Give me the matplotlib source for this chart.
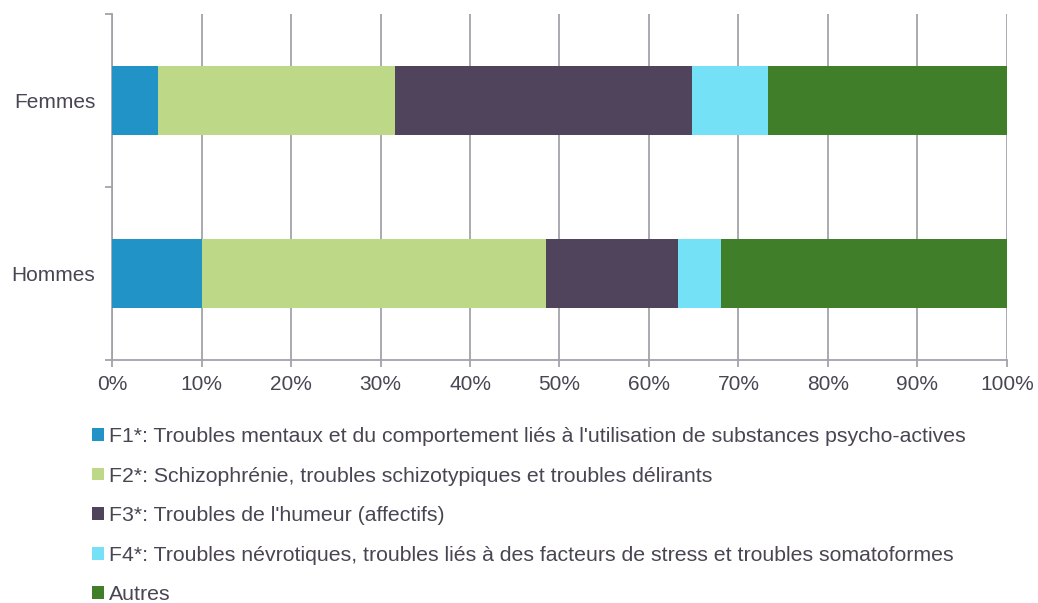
import numpy as np
import matplotlib.pyplot as plt
from matplotlib.patches import Patch
from matplotlib.ticker import PercentFormatter

plt.rcParams['font.family'] = ['Liberation Sans', 'DejaVu Sans']

groups = ['Hommes', 'Femmes']
labels = [
    "F1*: Troubles mentaux et du comportement liés à l'utilisation de substances psycho-actives",
    "F2*: Schizophrénie, troubles schizotypiques et troubles délirants",
    "F3*: Troubles de l'humeur (affectifs)",
    "F4*: Troubles névrotiques, troubles liés à des facteurs de stress et troubles somatoformes",
    "Autres",
]
# percent per group (Hommes, Femmes)
f1 = [10.0, 5.1]
f2 = [38.5, 26.5]
f3 = [14.8, 33.2]
f4 = [4.7, 8.5]
autres = [32.0, 26.7]
series = [f1, f2, f3, f4, autres]
colors = ['#2293c7', '#bdd987', '#4f445b', '#74e1f7', '#417e2a']

txt = '#4a4552'
gridc = '#a3a2aa'

fig = plt.figure(figsize=(10.38, 6.03), dpi=100)
ax = fig.add_axes([0.108, 0.403, 0.862, 0.574])

y = np.arange(len(groups))
left = np.zeros(len(groups))
for vals, c, lab in zip(series, colors, labels):
    ax.barh(y, vals, left=left, height=0.4, color=c, label=lab, zorder=3)
    left += np.array(vals)

ax.set_xlim(0, 100)
ax.set_ylim(-0.5, 1.5)
ax.set_xticks(np.arange(0, 101, 10))
ax.xaxis.set_major_formatter(PercentFormatter(decimals=0))
ax.set_yticks(y)
ax.set_yticklabels(groups)
ax.set_yticks([-0.5, 0.5, 1.5], minor=True)
ax.tick_params(axis='y', which='major', length=0, pad=12, labelsize=15, labelcolor=txt)
ax.tick_params(axis='y', which='minor', length=5, color=gridc, width=1.3)
ax.tick_params(axis='x', length=5, color=gridc, width=1.3, labelsize=15, labelcolor=txt, pad=6)
ax.grid(axis='x', color=gridc, linewidth=1.3, zorder=0)
for s in ['top', 'right']:
    ax.spines[s].set_visible(False)
for s in ['left', 'bottom']:
    ax.spines[s].set_color(gridc)
    ax.spines[s].set_linewidth(1.3)

handles = [Patch(facecolor=c) for c in colors]
fig.legend(handles, labels, loc='upper left', bbox_to_anchor=(0.089, 0.292),
           frameon=False, fontsize=15.3, labelcolor=txt, handlelength=0.55,
           handleheight=0.55, handletextpad=0.22, labelspacing=0.97,
           borderaxespad=0, borderpad=0)

fig.savefig('out.png', dpi=100)
